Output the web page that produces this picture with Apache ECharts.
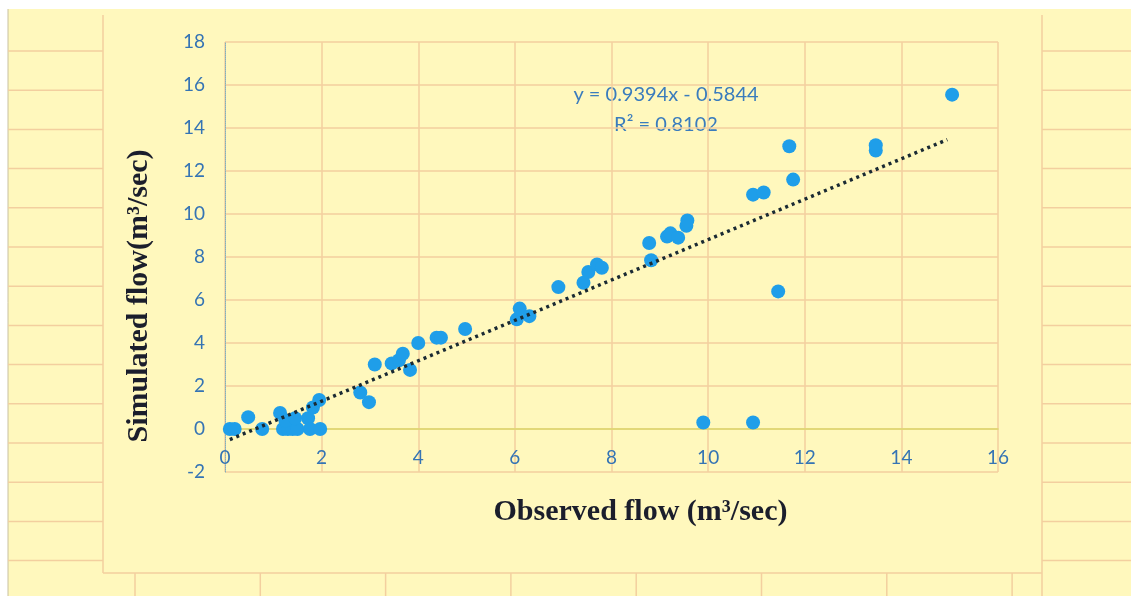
<!DOCTYPE html>
<html>
<head>
<meta charset="utf-8">
<script src="https://cdn.jsdelivr.net/npm/echarts@6/dist/echarts.min.js"></script>
<style>
  html, body { margin: 0; padding: 0; background: #ffffff; }
  #chart { width: 1131px; height: 596px; }
</style>
</head>
<body>
<div id="chart"></div>
<script>
// observed vs simulated flow (m3/sec)
const observed = [0.1, 0.2, 0.48, 0.77, 1.14, 1.2, 1.3, 1.4, 1.5, 1.25, 1.45, 1.72, 1.82, 1.95, 1.76, 1.97,
    2.8, 2.98, 3.1, 3.45, 3.6, 3.68, 3.83, 4.0, 4.38, 4.47, 4.97,
    6.04, 6.1, 6.3, 6.9, 7.42, 7.52, 7.7, 7.8,
    8.78, 8.82, 9.15, 9.22, 9.38, 9.55, 9.57, 9.9, 10.93, 10.93, 11.15, 11.45, 11.68, 11.76,
    13.47, 13.47, 15.05];
const simulated = [0.0, 0.0, 0.55, 0.0, 0.75, 0.0, 0.0, 0.0, 0.0, 0.4, 0.5, 0.5, 1.0, 1.35, 0.0, 0.0,
    1.7, 1.25, 3.0, 3.05, 3.2, 3.5, 2.75, 4.0, 4.25, 4.25, 4.65,
    5.1, 5.6, 5.25, 6.6, 6.8, 7.3, 7.65, 7.5,
    8.65, 7.85, 8.95, 9.1, 8.9, 9.45, 9.7, 0.3, 0.3, 10.9, 11.0, 6.4, 13.15, 11.6,
    12.95, 13.2, 15.55];

// linear trendline from the reported fit
const slope = 0.9394;
const intercept = -0.5844;
const trendX = [0.1, 14.95];
const equationText = 'y = 0.9394x - 0.5844';
const r2Text = 'R² = 0.8102';

const xTicks = [0, 2, 4, 6, 8, 10, 12, 14, 16];
const yTicks = [-2, 0, 2, 4, 6, 8, 10, 12, 14, 16, 18];

const points = observed.map((x, i) => [x, simulated[i]]);
const trend = trendX.map(x => [x, slope * x + intercept]);

// spreadsheet cell lines around the chart (decoration only)
const gridColor = '#f3cf9f';
const deco = [];
deco.push({ type: 'rect', shape: { x: 0, y: 0, width: 1131, height: 596 }, style: { fill: '#fff8bd' }, z: -20 });
deco.push({ type: 'rect', shape: { x: 0, y: 0, width: 1131, height: 9 }, style: { fill: '#ffffff' }, z: -19 });
deco.push({ type: 'rect', shape: { x: 0, y: 0, width: 8, height: 596 }, style: { fill: '#ffffff' }, z: -19 });
deco.push({ type: 'line', shape: { x1: 8, y1: 9, x2: 8, y2: 596 }, style: { stroke: '#c8c0a0', lineWidth: 1 }, z: -18 });
for (let y = 51; y < 575; y += 39.2) {
    deco.push({ type: 'line', shape: { x1: 8, y1: y, x2: 103, y2: y }, style: { stroke: gridColor, lineWidth: 1.5 }, z: -18 });
    deco.push({ type: 'line', shape: { x1: 1042, y1: y, x2: 1131, y2: y }, style: { stroke: gridColor, lineWidth: 1.5 }, z: -18 });
}
deco.push({ type: 'line', shape: { x1: 103, y1: 15, x2: 103, y2: 573 }, style: { stroke: gridColor, lineWidth: 1.5 }, z: -18 });
deco.push({ type: 'line', shape: { x1: 1042, y1: 15, x2: 1042, y2: 596 }, style: { stroke: gridColor, lineWidth: 1.5 }, z: -18 });
deco.push({ type: 'line', shape: { x1: 103, y1: 573, x2: 1042, y2: 573 }, style: { stroke: gridColor, lineWidth: 1.5 }, z: -18 });
for (let x = 135; x < 1042; x += 125.3) {
    deco.push({ type: 'line', shape: { x1: x, y1: 573, x2: x, y2: 596 }, style: { stroke: gridColor, lineWidth: 1.5 }, z: -18 });
}

const labelBlue = '#3574b4';
const titleStyle = { fontFamily: 'Liberation Serif', fontWeight: 'bold', fontSize: 30, color: '#1b1e2c' };

const chart = echarts.init(document.getElementById('chart'));
chart.setOption({
    animation: false,
    backgroundColor: 'transparent',
    graphic: deco.concat([
        { type: 'text', x: 666, y: 95, style: { text: equationText, fill: '#3a7cbd', font: '20px Lato', align: 'center', verticalAlign: 'middle' } },
        { type: 'text', x: 666, y: 125, style: { text: r2Text, fill: '#3a7cbd', font: '20px Lato', align: 'center', verticalAlign: 'middle' } }
    ]),
    grid: { left: 225, right: 133, top: 42, bottom: 124 },
    xAxis: {
        type: 'value', min: 0, max: 16, interval: 2,
        position: 'bottom', offset: -43.5,
        name: 'Observed flow (m³/sec)', nameLocation: 'middle', nameGap: 69,
        nameTextStyle: Object.assign({ padding: [0, 0, 0, 58] }, titleStyle),
        axisLine: { onZero: false, lineStyle: { color: '#dcd86a', width: 1.5 } },
        axisTick: { show: false },
        axisLabel: { margin: 20, fontFamily: 'Lato', fontSize: 19, color: labelBlue,
            formatter: v => xTicks.includes(v) ? String(v) : '' },
        splitLine: { show: true, lineStyle: { color: gridColor, width: 1.5 } }
    },
    yAxis: {
        type: 'value', min: -2, max: 18, interval: 2,
        name: 'Simulated flow(m³/sec)', nameLocation: 'middle', nameGap: 71,
        nameTextStyle: Object.assign({ padding: [0, 78, 0, 0] }, titleStyle),
        axisLine: { onZero: false, lineStyle: { color: '#7fb0bf', width: 1, type: 'dotted' } },
        axisTick: { show: false },
        axisLabel: { margin: 20, fontFamily: 'Lato', fontSize: 19, color: labelBlue,
            formatter: v => yTicks.includes(v) ? String(v) : '' },
        splitLine: { show: true, lineStyle: { color: gridColor, width: 1.5 } }
    },
    series: [
        {
            type: 'scatter', data: points, symbolSize: 14,
            itemStyle: { color: '#1f9ee9', opacity: 1 }, z: 3
        },
        {
            type: 'line', data: trend, symbol: 'none',
            lineStyle: { color: '#1a2a33', width: 3.5, type: [3, 4] }, z: 4
        }
    ]
});
</script>
</body>
</html>
